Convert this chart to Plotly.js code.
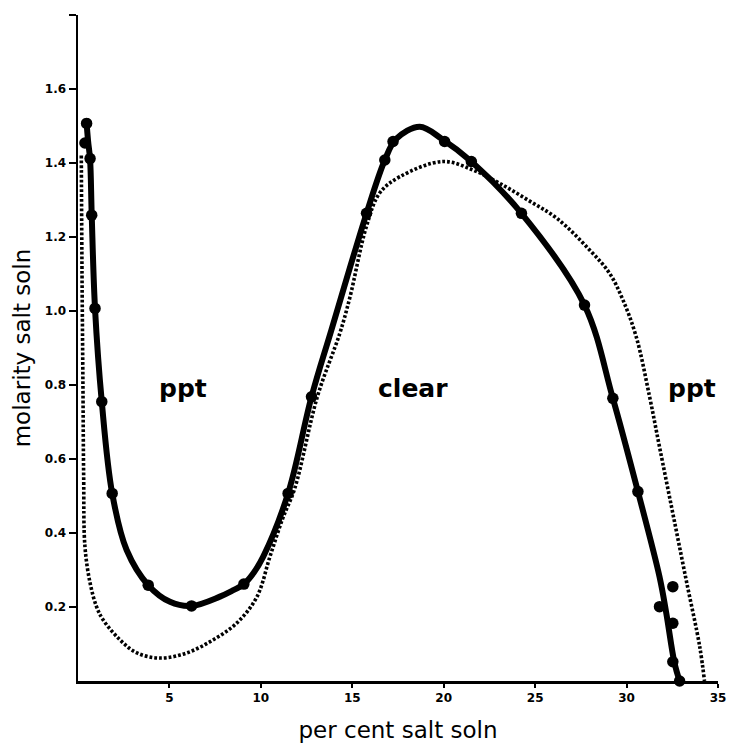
<!DOCTYPE html>
<html>
<head>
<meta charset="utf-8">
<script src="https://cdn.plot.ly/plotly-3.0.1.min.js"></script>
<style>html,body{margin:0;padding:0;background:#fff;}#chart{width:731px;height:743px;}</style>
</head>
<body>
<div id="chart"></div>
<script>
// Solid curve (smooth line through points)
const solidCurveX = [0.45,0.55,0.66,0.75,0.93,1.30,1.87,2.66,3.84,5.03,6.21,7.76,8.4,9.07,9.6,10.13,11.49,12.77,13.86,15.78,16.78,17.4,18.69,19.9,21.51,24.25,27.7,29.25,30.62,31.8,32.17,32.62,32.9];
const solidCurveY = [1.52,1.46,1.41,1.26,1.007,0.755,0.507,0.354,0.259,0.214,0.203,0.228,0.243,0.262,0.292,0.336,0.507,0.768,0.949,1.264,1.408,1.465,1.498,1.465,1.404,1.264,1.016,0.764,0.512,0.282,0.184,0.049,0.0];

// Measured points (filled circles)
const pointsX = [0.47,0.38,0.66,0.75,0.93,1.30,1.87,3.84,6.21,9.07,11.49,12.77,15.78,16.78,17.23,20.05,21.51,24.25,27.7,29.25,30.62,32.53,31.8,32.53,32.53,32.9];
const pointsY = [1.507,1.454,1.412,1.259,1.007,0.755,0.507,0.259,0.203,0.262,0.507,0.768,1.264,1.408,1.458,1.458,1.404,1.264,1.016,0.764,0.512,0.255,0.201,0.156,0.052,0.0];

// Dotted curve
const dottedX = [0.18,0.22,0.27,0.31,0.38,0.66,1.02,1.38,2.3,3.22,4.48,5.96,7.38,8.69,9.78,10.49,11.2,11.85,13.1,14.32,14.86,15.77,16.5,17.6,19.96,21.6,23.06,24.6,26.2,27.98,29.07,29.8,30.53,31.26,31.8,32.53,33.26,34.0,34.26];
const dottedY = [1.42,1.1,0.8,0.55,0.363,0.265,0.2,0.165,0.111,0.076,0.062,0.076,0.111,0.157,0.227,0.335,0.44,0.52,0.77,0.94,1.035,1.228,1.319,1.363,1.404,1.381,1.345,1.30,1.25,1.165,1.102,1.03,0.93,0.768,0.633,0.453,0.273,0.093,0.0];

// Axis ticks
const xTickVals = [5,10,15,20,25,30,35];
const xTickText = ['5','10','15','20','25','30','35'];
const yTickVals = [0.2,0.4,0.6,0.8,1.0,1.2,1.4,1.6,1.8];
const yTickText = ['0.2','0.4','0.6','0.8','1.0','1.2','1.4','1.6',''];

// Region labels
const regionLabels = ['ppt','clear','ppt'];
const regionX = [5.74,18.3,33.6];
const regionY = [0.79,0.79,0.79];

const traces = [
  {x: dottedX, y: dottedY, mode: 'lines', type: 'scatter',
   line: {color: '#000', width: 3.6, dash: '2.8px,2px', shape: 'spline', smoothing: 1},
   cliponaxis: false, hoverinfo: 'skip'},
  {x: solidCurveX, y: solidCurveY, mode: 'lines', type: 'scatter',
   line: {color: '#000', width: 6, shape: 'spline', smoothing: 1},
   cliponaxis: false, hoverinfo: 'skip'},
  {x: pointsX, y: pointsY, mode: 'markers', type: 'scatter',
   marker: {color: '#000', size: 11.5}, cliponaxis: false}
];

const annFont = {family: 'DejaVu Sans', size: 25, color: '#000', weight: 'bold'};
const annotations = regionLabels.map((t, i) => ({
  x: regionX[i], y: regionY[i], xref: 'x', yref: 'y', text: t,
  showarrow: false, font: annFont, xanchor: 'center', yanchor: 'middle'
}));

const tickFont = {family: 'DejaVu Sans', size: 12, color: '#000', weight: 'bold'};
const layout = {
  width: 731, height: 743,
  margin: {l: 78, r: 13, t: 15, b: 62},
  paper_bgcolor: '#fff', plot_bgcolor: '#fff',
  showlegend: false,
  xaxis: {
    range: [0, 35], tickvals: xTickVals, ticktext: xTickText,
    ticks: 'outside', ticklen: 4, tickwidth: 2, tickcolor: '#000',
    showline: true, linewidth: 2.5, linecolor: '#000',
    showgrid: false, zeroline: false, tickfont: tickFont,
    title: {text: 'per cent salt soln', font: {family: 'DejaVu Sans', size: 23, color: '#000'}, standoff: 20}
  },
  yaxis: {
    range: [0, 1.8], tickvals: yTickVals, ticktext: yTickText,
    ticks: 'outside', ticklen: 7, tickwidth: 2, tickcolor: '#000',
    showline: true, linewidth: 2.5, linecolor: '#000',
    showgrid: false, zeroline: false, tickfont: tickFont,
    title: {text: 'molarity salt soln', font: {family: 'DejaVu Sans', size: 23, color: '#000'}, standoff: 8}
  },
  annotations: annotations
};

Plotly.newPlot('chart', traces, layout, {displayModeBar: false, staticPlot: true});
</script>
</body>
</html>
